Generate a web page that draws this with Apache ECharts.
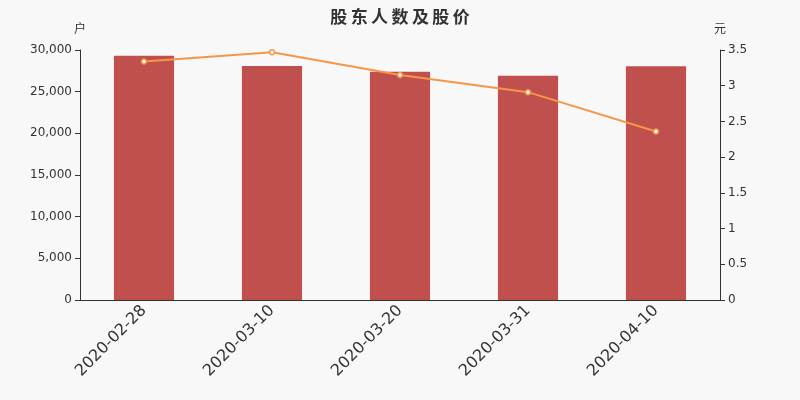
<!DOCTYPE html>
<html><head><meta charset="utf-8">
<script src="https://cdn.jsdelivr.net/npm/echarts@6/dist/echarts.min.js"></script>
<style>html,body{margin:0;padding:0;background:#f8f8f8}#c{width:800px;height:400px}</style>
</head><body><div id="c"></div>
<script>
var categories = ['2020-02-28','2020-03-10','2020-03-20','2020-03-31','2020-04-10'];
var holders = [29300, 28080, 27400, 26920, 28040];
var prices = [3.34, 3.47, 3.15, 2.91, 2.36];
var leftTicks = [0, 30000, 5000];
var rightTicks = [0, 3.5, 0.5];
var titleText = '股东人数及股价';

var chart = echarts.init(document.getElementById('c'));
var axisFont = {color:'#333', fontSize:12, fontFamily:'DejaVu Sans'};
chart.setOption({
  backgroundColor:'#f8f8f8',
  animation:false,
  title:{text:titleText.split('').join('\u2009'), left:'center', top:3,
    textStyle:{fontSize:17, fontWeight:'bold', color:'#333', fontFamily:'Noto Sans CJK SC'}},
  grid:{left:80, right:80, top:50, bottom:100},
  xAxis:{type:'category', data:categories,
    axisLine:{lineStyle:{color:'#333'}}, axisTick:{lineStyle:{color:'#333'}},
    axisLabel:{rotate:45, fontSize:16, color:'#333', fontFamily:'DejaVu Sans', margin:8}},
  yAxis:[
    {type:'value', name:'户', min:leftTicks[0], max:leftTicks[1], interval:leftTicks[2],
     nameTextStyle:{color:'#333', fontSize:12, fontFamily:'Noto Sans CJK SC', align:'center'},
     nameGap:16,
     splitLine:{show:false}, axisLine:{show:true, lineStyle:{color:'#333'}}, axisTick:{show:true},
     axisLabel:Object.assign({formatter:function(v){return v.toLocaleString('en-US');}}, axisFont)},
    {type:'value', name:'元', min:rightTicks[0], max:rightTicks[1], interval:rightTicks[2],
     nameTextStyle:{color:'#333', fontSize:12, fontFamily:'Noto Sans CJK SC', align:'center'},
     nameGap:16,
     splitLine:{show:false}, axisLine:{show:true, lineStyle:{color:'#333'}}, axisTick:{show:true},
     axisLabel:axisFont}
  ],
  series:[
    {type:'bar', data:holders, barWidth:'47%', itemStyle:{color:'#c0504d'}},
    {type:'line', yAxisIndex:1, data:prices, symbol:'circle', symbolSize:5,
     lineStyle:{color:'#f79646', width:2},
     itemStyle:{color:'#fff', borderColor:'#f79646', borderWidth:1.5}}
  ]
});
</script></body></html>
